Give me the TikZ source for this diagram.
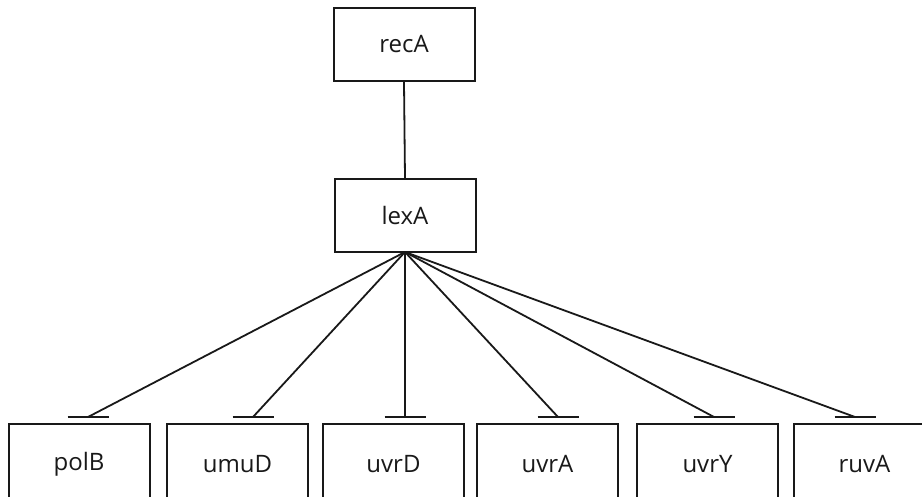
\documentclass[tikz,border=0pt]{standalone}
\usepackage{fontspec}
\setmainfont{Open Sans}
\begin{document}
\begin{tikzpicture}[x=1pt,y=-1pt,
  gene/.style={draw=black!90, line width=2pt, minimum width=141pt, minimum height=73pt, inner sep=0pt, font=\fontsize{24}{28}\selectfont, text=black!90},
  link/.style={draw=black!90, line width=1.8pt},
  teebar/.style={draw=black!90, line width=2pt}]
\useasboundingbox (0,0) rectangle (922,497);
\clip (0,0) rectangle (922,497);
\fill[white] (0,0) rectangle (922,497);
\node[gene] (recA) at (404,44.5) {recA};
\node[gene] (lexA) at (405,215.5) {lexA};
\node[gene, minimum height=80pt] (polB) at (79,464) {polB};
\node[gene, minimum height=80pt] (umuD) at (237.5,464) {umuD};
\node[gene, minimum height=80pt] (uvrD) at (393.5,464) {uvrD};
\node[gene, minimum height=80pt] (uvrA) at (547.5,464) {uvrA};
\node[gene, minimum height=80pt] (uvrY) at (707.5,464) {uvrY};
\node[gene, minimum height=80pt] (ruvA) at (864.5,464) {ruvA};
\coordinate (t1) at (88,417);
\coordinate (t2) at (253,417);
\coordinate (t3) at (405,417);
\coordinate (t4) at (558,417);
\coordinate (t5) at (714,417);
\coordinate (t6) at (855,417);
\coordinate (hub) at (405,252);
\draw[link] (recA.south) -- (lexA.north);
\foreach \t in {t1,t2,t3,t4,t5,t6}{
  \draw[link] (hub) -- (\t);
  \draw[teebar] ([xshift=-20.5pt]\t) -- ([xshift=20.5pt]\t);
}
\end{tikzpicture}
\end{document}
